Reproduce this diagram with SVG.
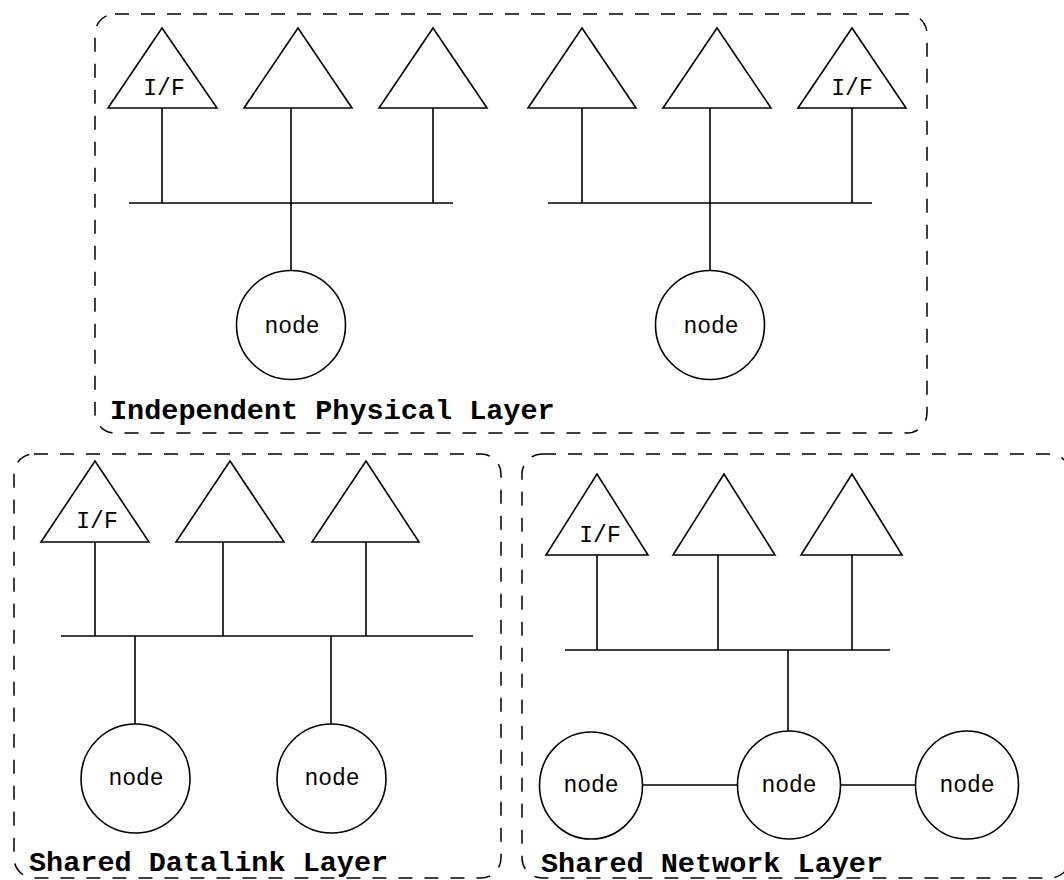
<svg xmlns="http://www.w3.org/2000/svg" width="1064" height="880" viewBox="0 0 1064 880">
<defs>
<style>
.box{fill:none;stroke:#000;stroke-width:1.5;stroke-dasharray:14 12}
.tri{fill:#fff;stroke:#000;stroke-width:1.6;stroke-linejoin:miter}
.nd{fill:#fff;stroke:#000;stroke-width:1.6}
.ln{stroke:#000;stroke-width:1.6;fill:none}
.t{font-family:"Liberation Mono","Courier New",monospace;font-size:23px;fill:#000;text-anchor:middle}
.lbl{font-family:"Liberation Mono","Courier New",monospace;font-size:28.5px;font-weight:bold;fill:#000}
</style>
</defs>
<rect fill="#fff" x="0" y="0" width="1064" height="880"/>
<g id="layers">
<rect class="box" x="95" y="14" width="832" height="419" rx="20" ry="20"/>
<rect class="box" x="14" y="454" width="487" height="424" rx="20" ry="20"/>
<rect class="box" x="522" y="454" width="548" height="424" rx="20" ry="20"/>
</g>
<g id="connectors">
<line class="ln" x1="162" y1="108" x2="162" y2="203"/>
<line class="ln" x1="291" y1="108" x2="291" y2="271"/>
<line class="ln" x1="433" y1="108" x2="433" y2="203"/>
<line class="ln" x1="129" y1="203" x2="453" y2="203"/>
<line class="ln" x1="582" y1="108" x2="582" y2="203"/>
<line class="ln" x1="710" y1="108" x2="710" y2="271"/>
<line class="ln" x1="852" y1="108" x2="852" y2="203"/>
<line class="ln" x1="548" y1="203" x2="872" y2="203"/>
<line class="ln" x1="95" y1="542" x2="95" y2="636"/>
<line class="ln" x1="223" y1="542" x2="223" y2="636"/>
<line class="ln" x1="366" y1="542" x2="366" y2="636"/>
<line class="ln" x1="61" y1="636" x2="473" y2="636"/>
<line class="ln" x1="135" y1="636" x2="135" y2="724"/>
<line class="ln" x1="331" y1="636" x2="331" y2="724"/>
<line class="ln" x1="597" y1="555" x2="597" y2="650"/>
<line class="ln" x1="718" y1="555" x2="718" y2="650"/>
<line class="ln" x1="852" y1="555" x2="852" y2="650"/>
<line class="ln" x1="565" y1="650" x2="890" y2="650"/>
<line class="ln" x1="788" y1="650" x2="788" y2="731"/>
<line class="ln" x1="642" y1="785" x2="738" y2="785"/>
<line class="ln" x1="840" y1="785" x2="916" y2="785"/>
</g>
<g id="if1"><polygon class="tri" points="162,28 108,108 217,108"/><text class="t" x="164" y="95">I/F</text></g>
<g id="if2"><polygon class="tri" points="298,28 244,108 352,108"/></g>
<g id="if3"><polygon class="tri" points="433,28 379,108 487,108"/></g>
<g id="if4"><polygon class="tri" points="582,28 528,108 636,108"/></g>
<g id="if5"><polygon class="tri" points="717,28 663,108 771,108"/></g>
<g id="if6"><polygon class="tri" points="852,28 798,108 906,108"/><text class="t" x="852" y="95">I/F</text></g>
<g id="node1"><circle class="nd" cx="291" cy="325" r="54.5"/><text class="t" x="292" y="333">node</text></g>
<g id="node2"><circle class="nd" cx="710" cy="325" r="54.5"/><text class="t" x="711" y="333">node</text></g>
<g id="label1"><text class="lbl" x="110" y="419">Independent Physical Layer</text></g>
<g id="if7"><polygon class="tri" points="95,461 41,542 149,542"/><text class="t" x="97" y="528">I/F</text></g>
<g id="if8"><polygon class="tri" points="230,461 176,542 284,542"/></g>
<g id="if9"><polygon class="tri" points="366,461 312,542 419,542"/></g>
<g id="node3"><circle class="nd" cx="135.5" cy="778.5" r="54.5"/><text class="t" x="136" y="785">node</text></g>
<g id="node4"><circle class="nd" cx="331.5" cy="778.5" r="54.5"/><text class="t" x="332" y="785">node</text></g>
<g id="label2"><text class="lbl" x="29" y="871">Shared Datalink Layer</text></g>
<g id="if10"><polygon class="tri" points="597,474 546,555 648,555"/><text class="t" x="600" y="542">I/F</text></g>
<g id="if11"><polygon class="tri" points="724,474 673,555 775,555"/></g>
<g id="if12"><polygon class="tri" points="852,474 801,555 902,555"/></g>
<g id="node5"><ellipse class="nd" cx="591" cy="785.5" rx="51.5" ry="53.5"/><text class="t" x="591" y="792">node</text></g>
<g id="node6"><ellipse class="nd" cx="789" cy="785" rx="51.5" ry="54"/><text class="t" x="789" y="792">node</text></g>
<g id="node7"><ellipse class="nd" cx="967" cy="785" rx="51.5" ry="54"/><text class="t" x="967" y="792">node</text></g>
<g id="label3"><text class="lbl" x="541" y="872">Shared Network Layer</text></g>
</svg>
